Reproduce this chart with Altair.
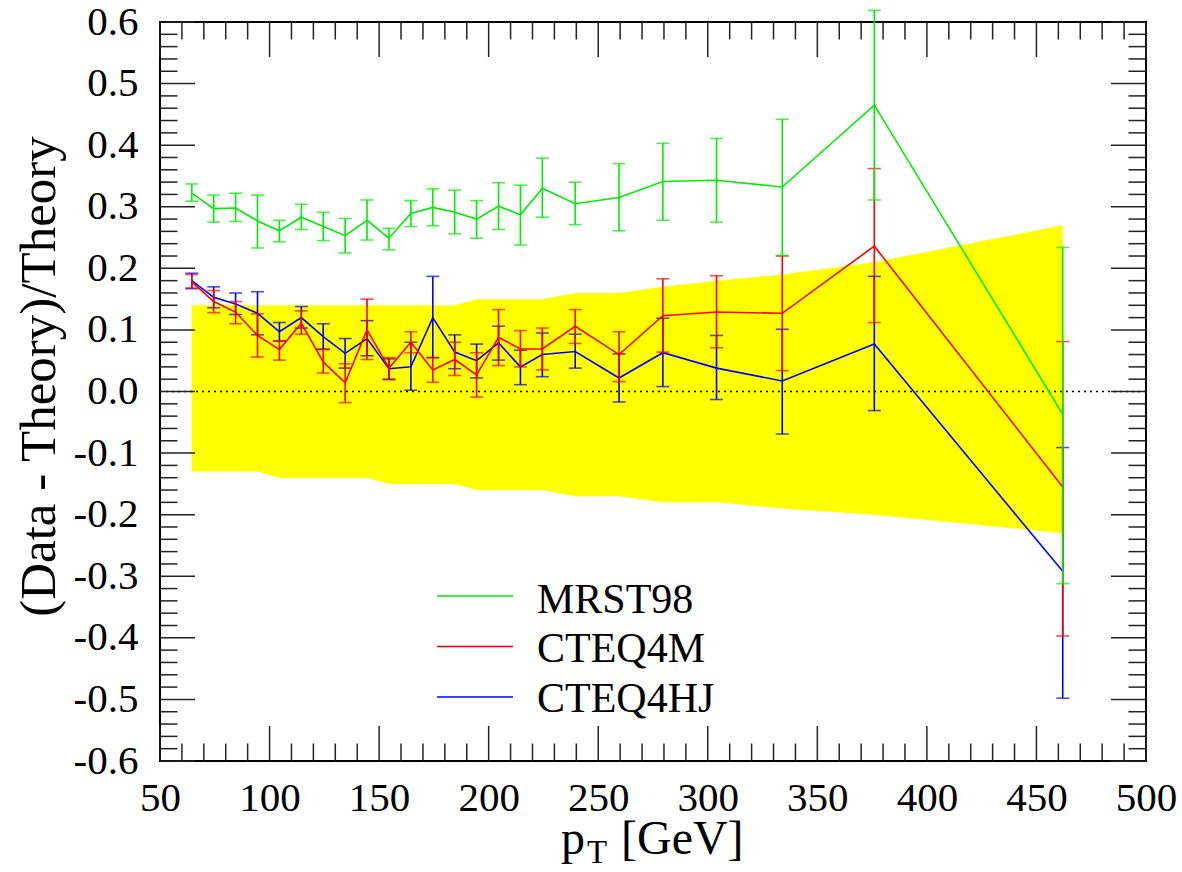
import altair as alt
import pandas as pd

# ---------------- data ----------------
pt = [64.5, 74.5, 84.5, 94.5, 104.5, 114.5, 124.5, 134.5, 144.5, 154.5, 164.5, 174.5,
      184.5, 194.5, 204.5, 214.5, 224.5, 239.5, 259.5, 279.5, 304, 334, 376, 462]

mrst_val = [0.322, 0.297, 0.298, 0.277, 0.261, 0.283, 0.268, 0.253, 0.278, 0.249, 0.289, 0.299,
            0.291, 0.280, 0.301, 0.287, 0.330, 0.305, 0.315, 0.341, 0.343, 0.332, 0.465, -0.037]
mrst_hi = [0.337, 0.319, 0.322, 0.319, 0.278, 0.304, 0.291, 0.281, 0.311, 0.265, 0.310, 0.329,
           0.327, 0.310, 0.339, 0.335, 0.379, 0.340, 0.370, 0.403, 0.411, 0.442, 0.619, 0.234]
mrst_lo = [0.309, 0.275, 0.276, 0.233, 0.243, 0.263, 0.245, 0.225, 0.246, 0.230, 0.268, 0.269,
           0.256, 0.249, 0.263, 0.238, 0.283, 0.271, 0.261, 0.278, 0.275, 0.221, 0.311, -0.312]

cteq4m_val = [0.178, 0.146, 0.129, 0.091, 0.068, 0.111, 0.048, 0.014, 0.100, 0.038, 0.080, 0.035,
              0.052, 0.027, 0.088, 0.069, 0.069, 0.106, 0.060, 0.123, 0.129, 0.127, 0.236, -0.155]
cteq4m_hi = [0.190, 0.164, 0.146, 0.126, 0.082, 0.131, 0.068, 0.045, 0.150, 0.055, 0.097, 0.055,
             0.080, 0.063, 0.133, 0.099, 0.103, 0.133, 0.097, 0.183, 0.188, 0.220, 0.362, 0.081]
cteq4m_lo = [0.168, 0.128, 0.110, 0.056, 0.051, 0.093, 0.030, -0.018, 0.052, 0.019, 0.063, 0.015,
             0.026, -0.009, 0.042, 0.040, 0.035, 0.078, 0.016, 0.064, 0.071, 0.034, 0.112, -0.397]

cteq4hj_val = [0.180, 0.153, 0.142, 0.127, 0.097, 0.120, 0.089, 0.062, 0.086, 0.037, 0.040, 0.120,
               0.064, 0.050, 0.079, 0.040, 0.060, 0.065, 0.022, 0.063, 0.038, 0.017, 0.077, -0.292]
cteq4hj_hi = [0.192, 0.170, 0.160, 0.162, 0.112, 0.138, 0.110, 0.086, 0.115, 0.053, 0.080, 0.187,
              0.092, 0.077, 0.106, 0.067, 0.095, 0.093, 0.061, 0.119, 0.091, 0.101, 0.187, -0.091]
cteq4hj_lo = [0.167, 0.136, 0.125, 0.092, 0.082, 0.103, 0.069, 0.038, 0.058, 0.020, 0.002, 0.055,
              0.037, 0.022, 0.051, 0.011, 0.024, 0.038, -0.017, 0.008, -0.013, -0.069, -0.031, -0.498]

band_hi = [0.14, 0.14, 0.14, 0.14, 0.14, 0.14, 0.14, 0.14, 0.14, 0.14, 0.14, 0.14,
           0.14, 0.15, 0.15, 0.15, 0.15, 0.16, 0.16, 0.17, 0.18, 0.19, 0.21, 0.27]
band_lo = [-0.13, -0.13, -0.13, -0.13, -0.14, -0.14, -0.14, -0.14, -0.14, -0.15, -0.15, -0.15,
           -0.15, -0.16, -0.16, -0.16, -0.16, -0.17, -0.17, -0.18, -0.18, -0.19, -0.20, -0.23]

series_names = ["MRST98", "CTEQ4M", "CTEQ4HJ"]
series_colors = ["#00ee00", "#ff0000", "#0000ff"]
series_vals = [mrst_val, cteq4m_val, cteq4hj_val]
series_his = [mrst_hi, cteq4m_hi, cteq4hj_hi]
series_los = [mrst_lo, cteq4m_lo, cteq4hj_lo]

x_labels = [50, 100, 150, 200, 250, 300, 350, 400, 450, 500]
y_labels = [-0.6, -0.5, -0.4, -0.3, -0.2, -0.1, 0.0, 0.1, 0.2, 0.3, 0.4, 0.5, 0.6]
x_minor = [v for v in range(50, 501, 10) if v % 50 != 0]
y_minor = [round(-0.6 + 0.02 * i, 2) for i in range(61) if i % 5 != 0]

# ---------------- layout ----------------
W, H = 986, 739
FONT = "Liberation Serif"
MAJ, MIN = 35, 17.5

xs = alt.Scale(domain=[50, 500], nice=False, zero=False)
ys = alt.Scale(domain=[-0.6, 0.6], nice=False, zero=False)

X_AX = alt.Axis(
    values=x_labels, title=None, ticks=False, domain=False, grid=False,
    labelFont=FONT, labelFontSize=41, labelColor="black", labelPadding=17,
    labelFlush=False, labelOverlap=False, format="d")
Y_AX = alt.Axis(
    values=y_labels, title="(Data - Theory)/Theory", ticks=False, domain=False, grid=False,
    labelFont=FONT, labelFontSize=41, labelColor="black", labelPadding=22,
    labelFlush=False, labelOverlap=False,
    labelExpr="datum.value < -0.001 ? '-' + format(-datum.value, '.1f') : format(abs(datum.value), '.1f')",
    titleFont=FONT, titleFontSize=51, titleFontWeight="normal", titleColor="black",
    titleX=-95, titleY=354, titleBaseline="bottom", titleAngle=270)


def X(field):
    return alt.X(field, scale=xs, axis=X_AX)


def Y(field):
    return alt.Y(field, scale=ys, axis=Y_AX)


band_df = pd.DataFrame({"pt": pt, "lo": band_lo, "hi": band_hi})
band = alt.Chart(band_df).mark_area(color="#ffff00", opacity=1, interpolate="linear").encode(
    x=X("pt:Q"), y=Y("lo:Q"), y2="hi:Q")

zero_line = alt.Chart(pd.DataFrame({"z": [0.0]})).mark_rule(
    color="black", strokeDash=[2, 4], strokeWidth=1.5).encode(y=Y("z:Q"))

layers = [band, zero_line]

# series drawn blue, red, green (green on top)
for idx in [2, 1, 0]:
    df = pd.DataFrame({"pt": pt, "val": series_vals[idx], "lo": series_los[idx], "hi": series_his[idx]})
    col = series_colors[idx]
    base = alt.Chart(df)
    layers.append(base.mark_rule(color=col, strokeWidth=1.6).encode(
        x=X("pt:Q"), y=Y("lo:Q"), y2="hi:Q"))
    layers.append(base.mark_tick(color=col, orient="horizontal", size=13, thickness=1.6).encode(
        x=X("pt:Q"), y=Y("lo:Q")))
    layers.append(base.mark_tick(color=col, orient="horizontal", size=13, thickness=1.6).encode(
        x=X("pt:Q"), y=Y("hi:Q")))
    layers.append(base.mark_line(color=col, strokeWidth=1.6).encode(
        x=X("pt:Q"), y=Y("val:Q")))

# inward ticks on all four sides
tick_col = "#222222"
ymaj = alt.Chart(pd.DataFrame({"v": y_labels}))
ymin = alt.Chart(pd.DataFrame({"v": y_minor}))
xmaj = alt.Chart(pd.DataFrame({"v": x_labels}))
xmin = alt.Chart(pd.DataFrame({"v": x_minor}))
for src, ln in [(ymaj, MAJ), (ymin, MIN)]:
    layers.append(src.mark_rule(color=tick_col, strokeWidth=1.5).encode(
        y=Y("v:Q"), x=alt.value(0), x2=alt.value(ln)))
    layers.append(src.mark_rule(color=tick_col, strokeWidth=1.5).encode(
        y=Y("v:Q"), x=alt.value(W - ln), x2=alt.value(W)))
for src, ln in [(xmaj, MAJ), (xmin, MIN)]:
    layers.append(src.mark_rule(color=tick_col, strokeWidth=1.5).encode(
        x=X("v:Q"), y=alt.value(H - ln), y2=alt.value(H)))
    layers.append(src.mark_rule(color=tick_col, strokeWidth=1.5).encode(
        x=X("v:Q"), y=alt.value(0), y2=alt.value(ln)))

# legend (drawn inside plot)
for i, (name, col) in enumerate(zip(series_names, series_colors)):
    ldf = pd.DataFrame({"name": [name]})
    layers.append(alt.Chart(ldf).mark_rule(color=col, strokeWidth=1.6).encode(
        x=alt.value(277), x2=alt.value(353), y=alt.value(574 + 50.5 * i)))
    layers.append(alt.Chart(ldf).mark_text(
        font=FONT, fontSize=42, align="left", baseline="alphabetic", color="black").encode(
        text="name:N", x=alt.value(377), y=alt.value(590.5 + 49.6 * i)))

# x-axis title with subscript
layers.append(alt.Chart(pd.DataFrame({"t": ["p"]})).mark_text(
    font=FONT, fontSize=48, align="left", baseline="alphabetic", color="black").encode(
    text="t:N", x=alt.value(401), y=alt.value(832)))
layers.append(alt.Chart(pd.DataFrame({"t": ["T"]})).mark_text(
    font=FONT, fontSize=33, align="left", baseline="alphabetic", color="black").encode(
    text="t:N", x=alt.value(427), y=alt.value(841)))
layers.append(alt.Chart(pd.DataFrame({"t": ["[GeV]"]})).mark_text(
    font=FONT, fontSize=48, align="left", baseline="alphabetic", color="black").encode(
    text="t:N", x=alt.value(461), y=alt.value(832)))

chart = alt.layer(*layers).properties(
    width=W, height=H,
    autosize=alt.AutoSizeParams(type="none"),
    padding={"left": 160, "top": 22, "right": 36, "bottom": 111},
    background="white",
).configure_view(stroke="black", strokeWidth=2)

chart.save("out.html", embed_options={"renderer": "svg", "actions": False})
